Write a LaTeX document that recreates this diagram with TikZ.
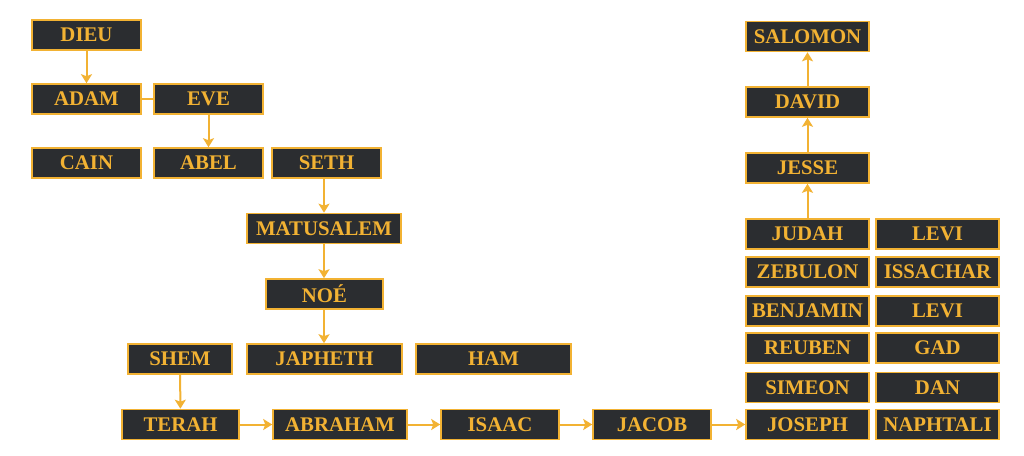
\documentclass[tikz,border=0pt]{standalone}
\usepackage{fontspec}
\setmainfont{Liberation Serif}
\usetikzlibrary{arrows.meta}
\definecolor{boxfill}{HTML}{2B2D30}
\definecolor{gold}{HTML}{F2B233}
\begin{document}
\begin{tikzpicture}[x=1pt,y=-1pt,
  nb/.style={draw=gold, line width=1.6pt, fill=boxfill, text=gold, font=\bfseries\fontsize{20.8}{20.8}\selectfont,
    minimum height=30pt, inner sep=0pt, anchor=center},
  w109/.style={minimum width=109pt},
  w123/.style={minimum width=123pt},
  conn/.style={draw=gold, line width=2pt},
  arr/.style={conn, -{Stealth[length=9pt,width=11pt,inset=2pt]}}]
\useasboundingbox (0,0) rectangle (1024,455);
\fill[white] (0,0) rectangle (1024,455);
% left part
\node[nb,w109] (dieu) at (86.5,35) {DIEU};
\node[nb,w109] (adam) at (86.5,99) {ADAM};
\node[nb,w109] (eve) at (208.5,99) {EVE};
\node[nb,w109] (cain) at (86.5,163) {CAIN};
\node[nb,w109] (abel) at (208.5,163) {ABEL};
\node[nb,w109] (seth) at (326.5,163) {SETH};
\node[nb,minimum width=154pt] (matu) at (324,228.5) {MATUSALEM};
\node[nb,minimum width=117pt] (noe) at (324.5,294) {NOÉ};
\node[nb,minimum width=104pt] (shem) at (180,359) {SHEM};
\node[nb,minimum width=155pt] (japheth) at (324.5,359) {JAPHETH};
\node[nb,minimum width=155pt] (ham) at (493.5,359) {HAM};
% bottom row
\node[nb,minimum width=117pt] (terah) at (180.5,424.5) {TERAH};
\node[nb,minimum width=134pt] (abraham) at (340,424.5) {ABRAHAM};
\node[nb,minimum width=118pt] (isaac) at (500,424.5) {ISAAC};
\node[nb,minimum width=118pt] (jacob) at (652,424.5) {JACOB};
% tribes
\node[nb,w123] (joseph) at (807.5,424.5) {JOSEPH};
\node[nb,w123] (naphtali) at (937.5,424.5) {NAPHTALI};
\node[nb,w123] (simeon) at (807.5,387.5) {SIMEON};
\node[nb,w123] (dan) at (937.5,387.5) {DAN};
\node[nb,w123] (reuben) at (807.5,348) {REUBEN};
\node[nb,w123] (gad) at (937.5,348) {GAD};
\node[nb,w123] (benjamin) at (807.5,311) {BENJAMIN};
\node[nb,w123] (levib) at (937.5,311) {LEVI};
\node[nb,w123] (zebulon) at (807.5,272) {ZEBULON};
\node[nb,w123] (issachar) at (937.5,272) {ISSACHAR};
\node[nb,w123] (judah) at (807.5,234) {JUDAH};
\node[nb,w123] (levia) at (937.5,234) {LEVI};
\node[nb,w123] (jesse) at (807.5,168) {JESSE};
\node[nb,w123] (david) at (807.5,102) {DAVID};
\node[nb,w123] (salomon) at (807.5,36.5) {SALOMON};
% connectors
\draw[arr] (dieu) -- (adam);
\draw[conn] (adam) -- (eve);
\draw[arr] (eve) -- (abel);
\draw[arr] (seth.south -| matu) -- (matu);
\draw[arr] (matu) -- (noe.north -| matu);
\draw[arr] (noe.south -| matu) -- (japheth.north -| matu);
\draw[arr] (shem) -- (terah);
\draw[arr] (terah) -- (abraham);
\draw[arr] (abraham) -- (isaac);
\draw[arr] (isaac) -- (jacob);
\draw[arr] (jacob) -- (joseph);
\draw[arr] (judah) -- (jesse);
\draw[arr] (jesse) -- (david);
\draw[arr] (david) -- (salomon);
\end{tikzpicture}
\end{document}
